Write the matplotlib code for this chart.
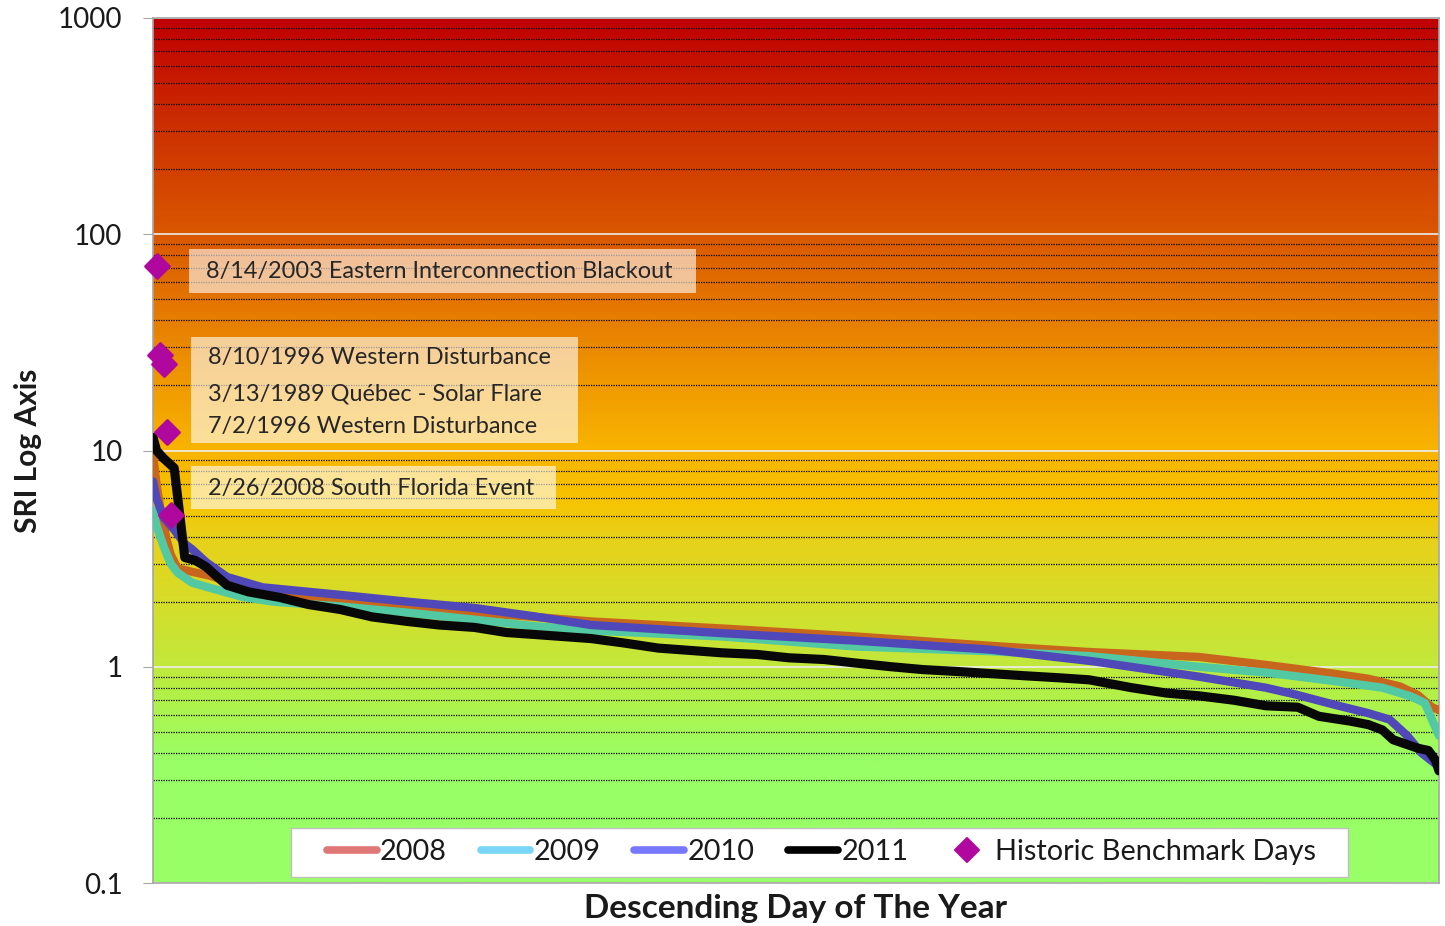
import numpy as np
import matplotlib
matplotlib.use('Agg')
import matplotlib.pyplot as plt
from matplotlib.colors import LinearSegmentedColormap
from matplotlib.lines import Line2D
from matplotlib.markers import MarkerStyle
from matplotlib.patches import Rectangle
from matplotlib.ticker import FixedLocator, FuncFormatter, LogLocator, NullFormatter

plt.rcParams.update({
    'font.family': ['Lato', 'DejaVu Sans'],
    'font.size': 20,
})

# ---- data (SRI by descending day) ----
days_2008 = [1, 2, 3, 4, 5, 6, 8, 12, 17, 22, 35, 54, 72, 92, 109, 125, 163, 200,
             238, 266, 297, 316, 335, 345, 354, 359, 363, 365]
sri_2008 = [9.5, 7.0, 5.5, 4.5, 3.8, 3.3, 2.85, 2.75, 2.64, 2.48, 2.2, 1.98, 1.88, 1.78,
            1.70, 1.62, 1.50, 1.38, 1.25, 1.17, 1.11, 1.02, 0.93, 0.88, 0.81, 0.74, 0.65, 0.63]

days_2009 = [1, 2, 4, 6, 8, 12, 17, 26, 35, 54, 73, 92, 109, 125, 162, 200, 238, 266,
             297, 316, 335, 349, 357, 361, 363, 365]
sri_2009 = [5.3, 4.5, 3.6, 3.0, 2.72, 2.45, 2.32, 2.11, 2.0, 1.90, 1.78, 1.65, 1.54, 1.47,
            1.38, 1.24, 1.18, 1.12, 1.0, 0.94, 0.86, 0.80, 0.73, 0.68, 0.57, 0.48]

days_2010 = [1, 2, 4, 7, 10, 12, 16, 22, 32, 54, 73, 92, 109, 125, 162, 200, 238, 267,
             297, 316, 325, 335, 345, 351, 356, 360, 365]
sri_2010 = [7.2, 6.0, 4.9, 4.3, 3.7, 3.5, 3.05, 2.6, 2.33, 2.15, 2.0, 1.87, 1.71, 1.56,
            1.43, 1.32, 1.20, 1.06, 0.90, 0.80, 0.74, 0.67, 0.61, 0.57, 0.48, 0.40, 0.345]

days_2011 = [1, 2, 4, 7, 10, 13, 16, 19, 22, 28, 37, 45, 54, 63, 73, 82, 92, 101, 109, 125,
             134, 144, 153, 162, 172, 181, 191, 200, 210, 219, 229, 238, 247, 257, 266,
             278, 288, 297, 307, 316, 325, 331, 340, 345, 349, 352, 359, 362, 364, 365]
sri_2011 = [11.5, 10.0, 9.2, 8.3, 3.2, 3.1, 2.9, 2.62, 2.38, 2.22, 2.09, 1.94, 1.84, 1.70,
            1.62, 1.56, 1.52, 1.44, 1.41, 1.35, 1.29, 1.22, 1.19, 1.16, 1.14, 1.10, 1.08,
            1.04, 1.00, 0.97, 0.95, 0.93, 0.91, 0.89, 0.87, 0.80, 0.755, 0.734, 0.70, 0.66,
            0.65, 0.59, 0.56, 0.54, 0.51, 0.46, 0.42, 0.41, 0.37, 0.33]

bench_days = [2, 3, 4, 5, 6]
bench_sri = [71.3, 27.5, 25.0, 12.2, 5.05]

note_groups = [
    ['8/14/2003 Eastern Interconnection Blackout'],
    ['8/10/1996 Western Disturbance', '3/13/1989 Québec - Solar Flare',
     '7/2/1996 Western Disturbance'],
    ['2/26/2008 South Florida Event'],
]

years = ['2008', '2009', '2010', '2011']
series = {'2008': (days_2008, sri_2008), '2009': (days_2009, sri_2009),
          '2010': (days_2010, sri_2010), '2011': (days_2011, sri_2011)}

# colour of the drawn lines (as they look on the gradient) and in the legend
LINE_COLORS = {'2008': '#C8661E', '2009': '#52C9A2', '2010': '#5048B8', '2011': '#080808'}
LEGEND_COLORS = {'2008': '#E07777', '2009': '#7AD6F6', '2010': '#7878FF', '2011': '#000000'}
LINE_WIDTHS = {'2008': 6.0, '2009': 6.0, '2010': 6.0, '2011': 6.6}
BENCH_COLOR = '#B0089E'

# background gradient stops (fraction of plot height, colour)
GRAD_STOPS = [(0.0, '#99FF66'), (0.14, '#99FF66'), (0.22, '#B4F046'), (0.25, '#C2E83C'),
              (0.32, '#D4DE2A'), (0.40, '#E8D01A'), (0.44, '#F6C400'), (0.50, '#F9B400'),
              (0.56, '#F2A000'), (0.64, '#E88200'), (0.75, '#DA5800'), (0.87, '#CD3200'),
              (1.0, '#C00000')]


def make_figure():
    W, H = 1445, 926
    fig = plt.figure(figsize=(W / 100, H / 100), dpi=100)
    pos = [153 / W, 1 - 883 / H, (1439 - 153) / W, (883 - 18) / H]

    # gradient background in its own axes
    bg = fig.add_axes(pos, zorder=0)
    cmap = LinearSegmentedColormap.from_list('sri', GRAD_STOPS)
    grad = np.linspace(0, 1, 600).reshape(-1, 1)
    bg.imshow(grad, aspect='auto', cmap=cmap, origin='lower', extent=(0, 1, 0, 1),
              interpolation='bilinear')
    bg.axis('off')

    ax = fig.add_axes(pos, zorder=1)
    ax.patch.set_alpha(0)
    ax.set_yscale('log')
    ax.set_xlim(1, 365)
    ax.set_ylim(0.1, 1000)

    ax.yaxis.set_major_locator(FixedLocator([0.1, 1, 10, 100, 1000]))
    ax.yaxis.set_major_formatter(FuncFormatter(lambda v, p: f'{v:g}'))
    ax.yaxis.set_minor_locator(LogLocator(base=10, subs=np.arange(2, 10)))
    ax.yaxis.set_minor_formatter(NullFormatter())
    ax.set_xticks([])
    ax.tick_params(axis='y', which='major', length=7, color='#A6A6A6', pad=15,
                   labelsize=20, labelcolor='#1A1A1A')
    ax.tick_params(axis='y', which='minor', length=0)
    ax.grid(True, which='minor', axis='y', color='black', linestyle=(0, (1, 1)), linewidth=0.9)
    ax.grid(True, which='major', axis='y', color='#EDEDED', linewidth=1.2)
    for sp in ax.spines.values():
        sp.set_color('#A6A6A6')
        sp.set_linewidth(1.2)

    for yr in years:
        d, v = series[yr]
        ax.plot(d, v, color=LINE_COLORS[yr], linewidth=LINE_WIDTHS[yr],
                solid_capstyle='round', solid_joinstyle='round', zorder=3)

    # annotation boxes (axes fraction)
    boxes = [(0.028, 0.682, 0.394, 0.051, [0.7075]),
             (0.0295, 0.5087, 0.301, 0.1223, [0.607, 0.565, 0.528]),
             (0.0295, 0.432, 0.2835, 0.050, [0.4566])]
    for (x0, y0, w, h, ys), lines in zip(boxes, note_groups):
        ax.add_patch(Rectangle((x0, y0), w, h, transform=ax.transAxes, facecolor='white',
                               alpha=0.6, edgecolor='none', zorder=4))
        for yy, s in zip(ys, lines):
            ax.text(x0 + 0.0135, yy, s, transform=ax.transAxes, fontsize=16.9,
                    va='center', ha='left', color='#262626', zorder=4.5)

    ax.plot(bench_days, bench_sri, linestyle='none',
            marker=MarkerStyle('D', joinstyle='round'), markersize=12.5,
            markerfacecolor=BENCH_COLOR, markeredgecolor=BENCH_COLOR,
            markeredgewidth=2, zorder=5, clip_on=False)

    # legend box
    ax.add_patch(Rectangle((0.1073, 0.0069), 0.8219, 0.0566, transform=ax.transAxes,
                           facecolor='white', edgecolor='#BFBFBF', linewidth=1, zorder=6))
    handles = [Line2D([], [], color=LEGEND_COLORS[yr], linewidth=5.5, solid_capstyle='round')
               for yr in years]
    handles.append(Line2D([], [], linestyle='none', marker=MarkerStyle('D', joinstyle='round'),
                          markersize=12, markerfacecolor=BENCH_COLOR,
                          markeredgecolor=BENCH_COLOR, markeredgewidth=1.5))
    leg = ax.legend(handles, years + ['Historic Benchmark Days'], loc='center',
                    bbox_to_anchor=(0.5198, 0.0353), ncol=5, frameon=False, fontsize=20.8,
                    handlelength=1.73, handletextpad=0.1, columnspacing=1.18, borderpad=0)
    leg.set_zorder(7)
    for t in leg.get_texts():
        t.set_color('#1A1A1A')

    ax.set_ylabel('SRI Log Axis', fontsize=21.5, fontweight='bold', color='#1A1A1A')
    ax.yaxis.set_label_coords(-0.086, 0.5)
    ax.set_xlabel('Descending Day of The Year', fontsize=24, fontweight='bold',
                  color='#1A1A1A', labelpad=8)

    fig.savefig('out.png', dpi=100)
    plt.close(fig)


if __name__ == '__main__':
    make_figure()
